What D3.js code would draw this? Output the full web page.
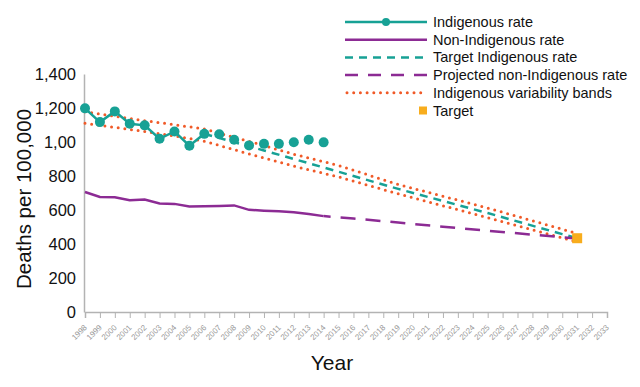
<!DOCTYPE html>
<html>
<head>
<meta charset="utf-8">
<script src="https://cdn.jsdelivr.net/npm/d3@7"></script>
<style>
  body { margin: 0; background: #fff; }
  svg { font-family: "Liberation Sans", Arial, sans-serif; }
</style>
</head>
<body>
<div id="chart"></div>
<script>
// tick labels
const yearTicks = d3.range(1998, 2034);
const yTickValues = [0, 200, 400, 600, 800, 1000, 1200, 1400];
const yTickLabels = ["0", "200", "400", "600", "800", "1,00", "1,200", "1,400"];

// Indigenous rate (connected part + later points)
const indigenousYears = [1998, 1999, 2000, 2001, 2002, 2003, 2004, 2005, 2006, 2007, 2008, 2009, 2010, 2011, 2012, 2013, 2014];
const indigenousRate = [1198, 1117, 1180, 1107, 1098, 1019, 1062, 978, 1048, 1046, 1013, 980, 989, 989, 999, 1013, 998];
const indigenousLineEnd = 2006;

// Non-Indigenous rate
const nonIndigenousYears = [1998, 1999, 2000, 2001, 2002, 2003, 2004, 2005, 2006, 2007, 2008, 2009, 2010, 2011, 2012, 2013, 2014];
const nonIndigenousRate = [706, 677, 675, 657, 662, 638, 636, 621, 622, 624, 627, 601, 596, 592, 587, 577, 564];

// Projected non-Indigenous rate
const projectedYears = [2014, 2016, 2019, 2022, 2025, 2028, 2031];
const projectedRate = [564, 550, 526, 502, 478, 455, 432];

// Target Indigenous rate
const targetYears = [2006, 2010, 2016, 2019, 2025, 2030, 2031];
const targetRate = [1048, 950, 800, 724, 582, 458, 434];

// Indigenous variability bands
const bandYears = [1998, 2000, 2002, 2004, 2006, 2009, 2012, 2015, 2019, 2025, 2031];
const bandUpper = [1178, 1152, 1125, 1102, 1076, 1004, 928, 862, 750, 612, 462];
const bandLower = [1110, 1086, 1062, 1036, 1005, 930, 858, 795, 695, 555, 412];

// Target point
const targetPoint = [2031, 434];

const legendItems = [
  "Indigenous rate",
  "Non-Indigenous rate",
  "Target Indigenous rate",
  "Projected non-Indigenous rate",
  "Indigenous variability bands",
  "Target"
];

const teal = "#17a195";
const purple = "#8c2b94";
const orange = "#f05a28";
const gold = "#f8ad1d";
const axisGrey = "#b3b3b3";

const width = 640, height = 387;

const svg = d3.select("#chart").append("svg")
  .attr("width", width)
  .attr("height", height);

const x = d3.scaleLinear().domain([1998, 2033]).range([85, 607]);
const y = d3.scaleLinear().domain([0, 1400]).range([312, 74]);

const zip = (xs, ys) => xs.map((d, i) => [d, ys[i]]);
const line = d3.line().x(d => x(d[0])).y(d => y(d[1]));

// Y axis
const yAxis = svg.append("g")
  .attr("transform", `translate(${x(1998) - 1},0)`)
  .call(d3.axisLeft(y).tickValues(yTickValues).tickSize(0).tickPadding(8)
    .tickFormat((d, i) => yTickLabels[i]));
yAxis.select(".domain").attr("stroke", axisGrey).attr("stroke-width", 1.5);
yAxis.selectAll("text").attr("font-size", "16.5px").attr("fill", "#111")
  .attr("font-family", "Liberation Sans, Arial, sans-serif");

// X axis
const xAxis = svg.append("g")
  .attr("transform", `translate(0,${y(0)})`)
  .call(d3.axisBottom(x).tickValues(yearTicks).tickSize(6).tickFormat(d3.format("d")));
xAxis.select(".domain").attr("stroke", axisGrey).attr("stroke-width", 1.5);
xAxis.selectAll(".tick line").attr("stroke", axisGrey);
xAxis.selectAll("text")
  .attr("x", 0)
  .attr("y", 0)
  .attr("dy", "0.35em")
  .attr("font-size", "8px")
  .attr("fill", "#999")
  .attr("font-family", "Liberation Sans, Arial, sans-serif")
  .attr("text-anchor", "end")
  .attr("transform", "translate(0,14) rotate(-45)");

// Axis titles
svg.append("text")
  .attr("transform", `translate(31,${(y(0) + y(1400)) / 2 + 6}) rotate(-90)`)
  .attr("text-anchor", "middle")
  .attr("font-size", "20.5px")
  .attr("fill", "#111")
  .text("Deaths per 100,000");

svg.append("text")
  .attr("x", 332)
  .attr("y", 370)
  .attr("text-anchor", "middle")
  .attr("font-size", "21px")
  .attr("fill", "#111")
  .text("Year");

// Variability bands
[bandUpper, bandLower].forEach(vals => {
  svg.append("path")
    .attr("d", line(zip(bandYears, vals)))
    .attr("fill", "none")
    .attr("stroke", orange)
    .attr("stroke-width", 3)
    .attr("stroke-linecap", "round")
    .attr("stroke-dasharray", "0,6.7");
});

// Target Indigenous rate
svg.append("path")
  .attr("d", line(zip(targetYears, targetRate)))
  .attr("fill", "none")
  .attr("stroke", teal)
  .attr("stroke-width", 2.5)
  .attr("stroke-dasharray", "8,6");

// Non-Indigenous rate
svg.append("path")
  .attr("d", line(zip(nonIndigenousYears, nonIndigenousRate)))
  .attr("fill", "none")
  .attr("stroke", purple)
  .attr("stroke-width", 2.5);

// Projected non-Indigenous rate
svg.append("path")
  .attr("d", line(zip(projectedYears, projectedRate)))
  .attr("fill", "none")
  .attr("stroke", purple)
  .attr("stroke-width", 2.5)
  .attr("stroke-dasharray", "15,10")
  .attr("stroke-dashoffset", 8);

// Indigenous rate
const indigenous = zip(indigenousYears, indigenousRate);
svg.append("path")
  .attr("d", line(indigenous.filter(d => d[0] <= indigenousLineEnd)))
  .attr("fill", "none")
  .attr("stroke", teal)
  .attr("stroke-width", 2.5);

svg.selectAll("circle.ind")
  .data(indigenous)
  .enter()
  .append("circle")
  .attr("class", "ind")
  .attr("cx", d => x(d[0]))
  .attr("cy", d => y(d[1]))
  .attr("r", 5)
  .attr("fill", teal);

// Target marker
svg.append("rect")
  .attr("x", x(targetPoint[0]) - 5)
  .attr("y", y(targetPoint[1]) - 5)
  .attr("width", 10)
  .attr("height", 10)
  .attr("fill", gold);

// Legend
const legend = svg.append("g").attr("transform", "translate(345,22)");
const rowH = 17.7;
const lx0 = 0, lx1 = 82;
const styles = [
  { stroke: teal, dash: null, marker: true },
  { stroke: purple, dash: null },
  { stroke: teal, dash: "8,6" },
  { stroke: purple, dash: "13,10" },
  { stroke: orange, dash: "0,6.7", dots: true },
  { square: true }
];

legendItems.forEach((label, i) => {
  const row = legend.append("g").attr("transform", `translate(0,${i * rowH})`);
  const s = styles[i];
  if (s.square) {
    row.append("rect").attr("x", lx1 - 8).attr("y", -4).attr("width", 8).attr("height", 8).attr("fill", gold);
  } else {
    row.append("line")
      .attr("x1", s.dots ? lx0 + 2 : lx0).attr("x2", lx1)
      .attr("y1", 0).attr("y2", 0)
      .attr("stroke", s.stroke)
      .attr("stroke-width", s.dots ? 3 : 2.5)
      .attr("stroke-linecap", s.dots ? "round" : "butt")
      .attr("stroke-dasharray", s.dash);
    if (s.marker) {
      row.append("circle").attr("cx", 41).attr("cy", 0).attr("r", 4).attr("fill", teal);
    }
  }
  row.append("text")
    .attr("x", 88)
    .attr("y", 0)
    .attr("dy", "0.35em")
    .attr("font-size", "14.5px")
    .attr("fill", "#111")
    .text(label);
});
</script>
</body>
</html>
